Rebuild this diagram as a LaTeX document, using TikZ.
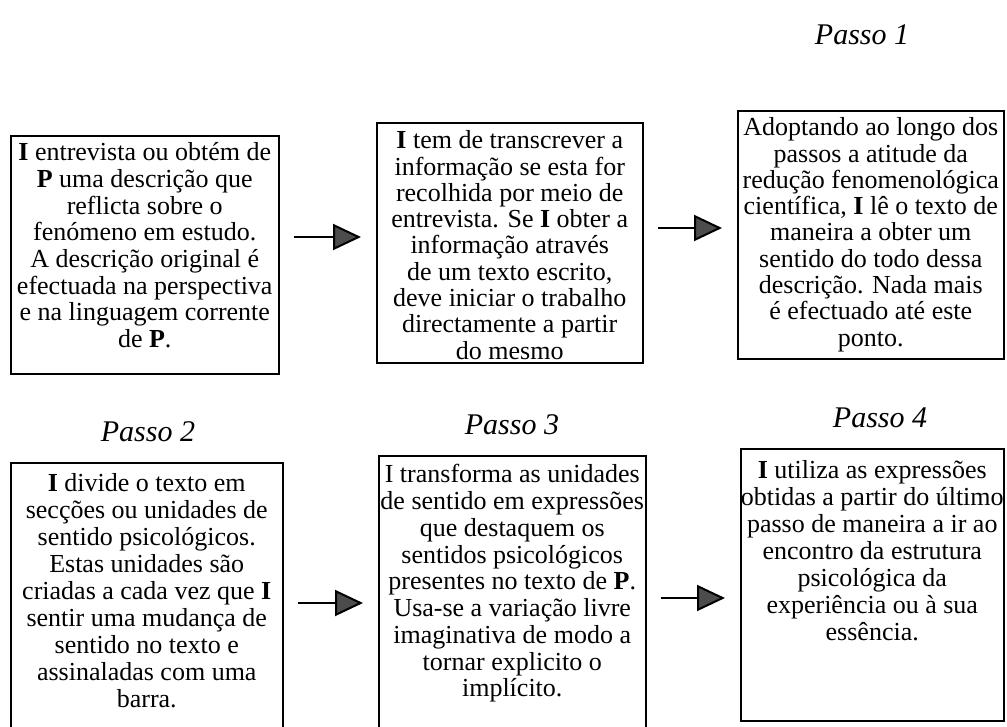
\documentclass[tikz,border=0pt]{standalone}
\usepackage{fontspec}
\setmainfont{Liberation Serif}
\usetikzlibrary{arrows.meta}
\newcommand{\bI}{\textbf{I}}
\newcommand{\bP}{\textbf{P}}
\begin{document}
\begin{tikzpicture}[x=1pt,y=-1pt,
        passo/.style={draw,line width=1.5pt,inner sep=0pt,anchor=north west},
        titulo/.style={font=\fontsize{30}{32}\selectfont\itshape},
        seta/.style={line width=2pt,-{Triangle[length=28pt,width=26pt,fill=black!70]},
                     shorten <=14pt,shorten >=15pt}]
        \useasboundingbox (0,0) rectangle (1007,726);
        \clip (0,0) rectangle (1007,726);

        % titulos
        \node[titulo] (t1) at (862,35) {Passo 1};
        \node[titulo] (t2) at (148,432) {Passo 2};
        \node[titulo] (t3) at (512,425) {Passo 3};
        \node[titulo] (t4) at (880,418) {Passo 4};

        % caixas de cima
        \node[passo] (b1) at (10,135) {\parbox[t][238pt][t]{268pt}{\centering
              \fontsize{26}{26.7}\selectfont\rule{0pt}{25pt}%
              \bI{} entrevista ou obtém de\\ \bP{} uma descrição que\\
              reflicta sobre o\\ fenómeno em estudo.\\ A descrição original é\\
              efectuada na perspectiva\\ e na linguagem corrente\\ de \bP.}};
        \node[passo] (b2) at (376,122) {\parbox[t][240pt][t]{266pt}{\centering
              \fontsize{26}{26.3}\selectfont\rule{0pt}{26pt}%
              \bI{} tem de transcrever a\\ informação se esta for\\
              recolhida por meio de\\ entrevista. Se \bI{} obter a\\
              informação através\\ de um texto escrito,\\ deve iniciar o trabalho\\
              directamente a partir\\ do mesmo}};
        \node[passo] (b3) at (737,110) {\parbox[t][248pt][t]{266pt}{\centering
              \fontsize{26}{26.3}\selectfont\rule{0pt}{25pt}%
              Adoptando ao longo dos\\ passos a atitude da\\ redução fenomenológica\\
              científica, \bI{} lê o texto de\\ maneira a obter um\\
              sentido do todo dessa\\ descrição. Nada mais\\ é efectuado até este\\ ponto.}};

        % caixas de baixo
        \node[passo] (b4) at (10,462) {\parbox[t][290pt][t]{272pt}{\centering
              \fontsize{26}{27}\selectfont\rule{0pt}{29pt}%
              \bI{} divide o texto em\\ secções ou unidades de\\ sentido psicológicos.\\
              Estas unidades são\\ criadas a cada vez que \bI\\ sentir uma mudança de\\
              sentido no texto e\\ assinaladas com uma\\ barra.}};
        \node[passo] (b5) at (378,455) {\parbox[t][290pt][t]{267pt}{\centering
              \fontsize{26}{26.75}\selectfont\rule{0pt}{27pt}%
              I transforma as unidades\\ de sentido em expressões\\ que destaquem os\\
              sentidos psicológicos\\ presentes no texto de \bP.\\ Usa-se a variação livre\\
              imaginativa de modo a\\ tornar explicito o\\ implícito.}};
        \node[passo] (b6) at (740,448) {\parbox[t][272pt][t]{263pt}{\centering
              \fontsize{26}{27}\selectfont\rule{0pt}{30pt}%
              \bI{} utiliza as expressões\\ obtidas a partir do último\\
              passo de maneira a ir ao\\ encontro da estrutura\\ psicológica da\\
              experiência ou à sua\\ essência.}};

        % setas
        \coordinate (s1) at (0,237);
        \coordinate (s2) at (0,228);
        \coordinate (s3) at (0,603);
        \coordinate (s4) at (0,598);
        \draw[seta] (b1.east |- s1) -- (b2.west |- s1);
        \draw[seta] (b2.east |- s2) -- (b3.west |- s2);
        \draw[seta] (b4.east |- s3) -- (b5.west |- s3);
        \draw[seta] (b5.east |- s4) -- (b6.west |- s4);
      \end{tikzpicture}
\end{document}
